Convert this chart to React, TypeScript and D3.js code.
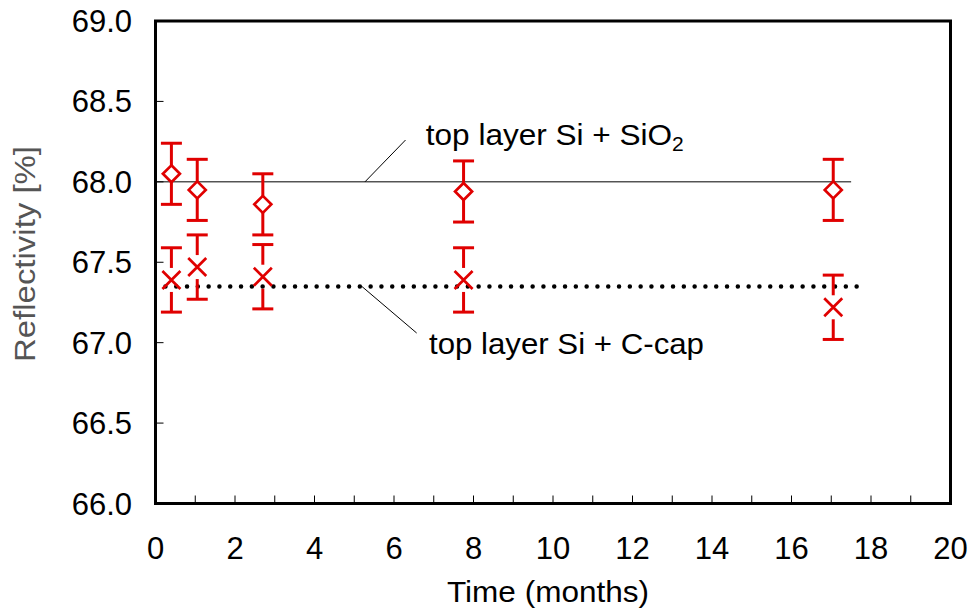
import React from "react";
import { scaleLinear, range } from "d3";

// measurement times (months)
const months = [0.4, 1.05, 2.7, 7.75, 17.05];

// top layer Si + SiO2
const sio2 = [68.05, 67.95, 67.86, 67.94, 67.95];
const sio2Err = [0.19, 0.19, 0.19, 0.19, 0.19];

// top layer Si + C-cap
const ccap = [67.39, 67.47, 67.41, 67.39, 67.22];
const ccapErr = [0.2, 0.2, 0.2, 0.2, 0.2];

// reference lines [x0, x1, y]
const sio2Line = [0, 17.5, 68.0];
const ccapLine = [0.25, 17.7, 67.35];

const xTicks = range(0, 21, 2);
const xMinor = range(0, 21, 1);
const yTicks = [66.0, 66.5, 67.0, 67.5, 68.0, 68.5, 69.0];

const FONT = "'Liberation Sans', Arial, sans-serif";
const RED = "#e00000";

export default function App() {
  const width = 971;
  const height = 609;

  const x = scaleLinear().domain([0, 20]).range([155.5, 950.5]);
  const y = scaleLinear().domain([66, 69]).range([503.5, 21]);

  const cap = 10.5;
  const dr = 8.5; // diamond half size
  const cr = 9; // cross half size

  return (
    <svg
      width={width}
      height={height}
      style={{ position: "absolute", left: 0, top: 0, background: "#fff" }}
    >
      {/* ticks, inward */}
      {xMinor.map((t) => (
        <line key={"xt" + t} x1={x(t)} x2={x(t)} y1={y(66)} y2={y(66) - 8} stroke="#000" strokeWidth={1} />
      ))}
      {yTicks.map((t) => (
        <line key={"yt" + t} x1={x(0)} x2={x(0) + 8} y1={y(t)} y2={y(t)} stroke="#000" strokeWidth={1} />
      ))}

      {/* reference lines */}
      <line x1={x(sio2Line[0])} x2={x(sio2Line[1])} y1={y(sio2Line[2])} y2={y(sio2Line[2])} stroke="#000" strokeWidth={1} />
      <line
        x1={x(ccapLine[0])}
        x2={x(ccapLine[1])}
        y1={y(ccapLine[2])}
        y2={y(ccapLine[2])}
        stroke="#000"
        strokeWidth={4.5}
        strokeLinecap="round"
        strokeDasharray="0 10.8"
      />

      {/* error bars + markers, SiO2 */}
      {months.map((m, i) => {
        const cx = x(m);
        const cy = y(sio2[i]);
        const yt = y(sio2[i] + sio2Err[i]);
        const yb = y(sio2[i] - sio2Err[i]);
        return (
          <g key={"s" + i} stroke={RED} strokeWidth={3} fill="none">
            <line x1={cx} x2={cx} y1={yt} y2={cy - dr} />
            <line x1={cx} x2={cx} y1={cy + dr} y2={yb} />
            <line x1={cx - cap} x2={cx + cap} y1={yt} y2={yt} />
            <line x1={cx - cap} x2={cx + cap} y1={yb} y2={yb} />
            <path
              d={`M${cx},${cy - dr}L${cx + dr},${cy}L${cx},${cy + dr}L${cx - dr},${cy}Z`}
              fill="#fff"
              strokeWidth={2.7}
            />
          </g>
        );
      })}

      {/* error bars + markers, C-cap */}
      {months.map((m, i) => {
        const cx = x(m);
        const cy = y(ccap[i]);
        const yt = y(ccap[i] + ccapErr[i]);
        const yb = y(ccap[i] - ccapErr[i]);
        return (
          <g key={"c" + i} stroke={RED} strokeWidth={3} fill="none">
            <line x1={cx} x2={cx} y1={yt} y2={cy - cr - 3} />
            <line x1={cx} x2={cx} y1={cy + cr + 3} y2={yb} />
            <line x1={cx - cap} x2={cx + cap} y1={yt} y2={yt} />
            <line x1={cx - cap} x2={cx + cap} y1={yb} y2={yb} />
            <path d={`M${cx - cr},${cy - cr}L${cx + cr},${cy + cr}M${cx - cr},${cy + cr}L${cx + cr},${cy - cr}`} strokeWidth={2.7} />
          </g>
        );
      })}

      {/* annotations */}
      <line x1={x(5.27)} y1={y(68.0)} x2={x(6.29)} y2={y(68.26)} stroke="#000" strokeWidth={1} />
      <text
        x={x(6.8)}
        y={y(68.23)}
        fontFamily={FONT}
        fontSize={30}
        fill="#000"
        textLength={258}
        lengthAdjust="spacingAndGlyphs"
      >
        top layer Si + SiO
        <tspan fontSize={20} dy={6}>2</tspan>
      </text>
      <line x1={x(5.19)} y1={y(67.35)} x2={x(6.57)} y2={y(67.06)} stroke="#000" strokeWidth={1} />
      <text
        x={x(6.88)}
        y={y(66.93)}
        fontFamily={FONT}
        fontSize={30}
        fill="#000"
        textLength={275}
        lengthAdjust="spacingAndGlyphs"
      >
        top layer Si + C-cap
      </text>

      {/* frame */}
      <rect
        x={x(0)}
        y={y(69)}
        width={x(20) - x(0)}
        height={y(66) - y(69)}
        fill="none"
        stroke="#000"
        strokeWidth={3}
      />

      {/* tick labels */}
      {xTicks.map((t) => (
        <text key={"xl" + t} x={x(t)} y={559} textAnchor="middle" fontFamily={FONT} fontSize={31} fill="#000">
          {t}
        </text>
      ))}
      {yTicks.map((t) => (
        <text key={"yl" + t} x={132} y={y(t) + 11} textAnchor="end" fontFamily={FONT} fontSize={31} fill="#000">
          {t.toFixed(1)}
        </text>
      ))}

      {/* axis titles */}
      <text
        x={447}
        y={602}
        fontFamily={FONT}
        fontSize={30}
        fill="#000"
        textLength={202}
        lengthAdjust="spacingAndGlyphs"
      >
        Time (months)
      </text>
      <text
        transform="translate(35,362) rotate(-90)"
        fontFamily={FONT}
        fontSize={30}
        fill="#555"
        textLength={216}
        lengthAdjust="spacingAndGlyphs"
      >
        Reflectivity [%]
      </text>
    </svg>
  );
}
